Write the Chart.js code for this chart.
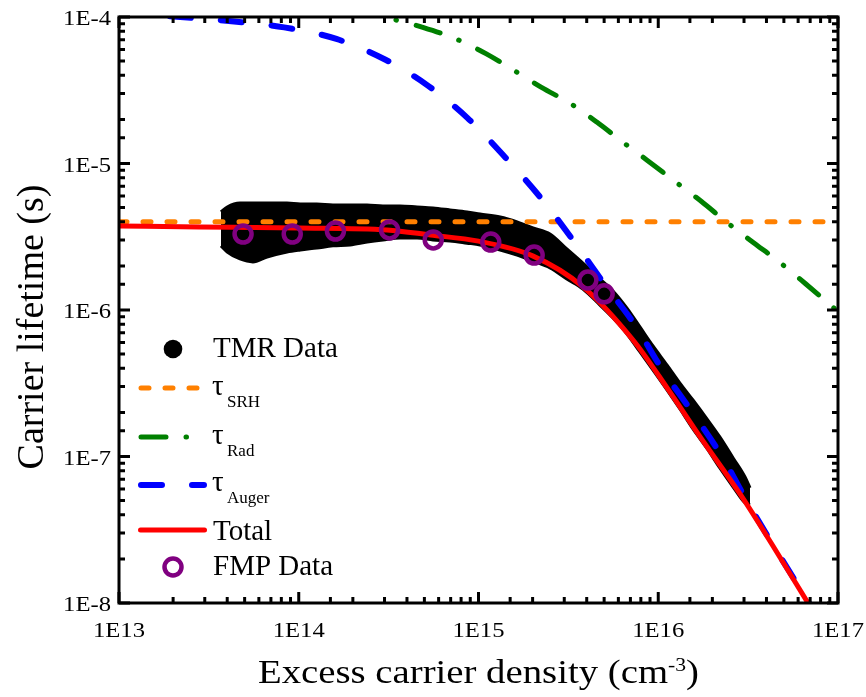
<!DOCTYPE html>
<html>
<head>
<meta charset="utf-8">
<title>Carrier lifetime vs excess carrier density</title>
<script src="https://cdn.jsdelivr.net/npm/chart.js@4.4.1/dist/chart.umd.min.js"></script>
<style>
  html, body { margin: 0; padding: 0; background: #fff; }
  #wrap { width: 866px; height: 697px; }
</style>
</head>
<body>
<div id="wrap"><canvas id="chart" width="866" height="697"></canvas></div>
<script>
// ===== Data =====
// TMR measurement: drawn as the band between its upper and lower edge
const tmrX    = [3.69e13, 4.0e13, 4.71e13, 5.56e13, 6.66e13, 8.6e13, 1.02e14, 1.26e14, 1.55e14, 1.93e14,
                 2.40e14, 2.94e14, 3.66e14, 4.55e14, 5.58e14, 6.94e14, 8.63e14, 1.02e15, 1.32e15, 1.64e15,
                 2.01e15, 2.50e15, 3.10e15, 3.81e15, 4.74e15, 5.60e15, 6.70e15, 7.91e15, 9.35e15, 1.12e16,
                 1.32e16, 1.56e16, 1.87e16, 2.20e16, 2.61e16, 3.04e16, 3.24e16];
const tmrHigh = [4.67e-6, 5.05e-6, 5.37e-6, 5.37e-6, 5.37e-6, 5.37e-6, 5.29e-6, 5.29e-6, 5.21e-6, 5.21e-6,
                 5.21e-6, 5.13e-6, 5.13e-6, 5.05e-6, 4.97e-6, 4.82e-6, 4.67e-6, 4.52e-6, 4.31e-6, 3.99e-6,
                 3.63e-6, 3.30e-6, 2.61e-6, 2.09e-6, 1.63e-6, 1.35e-6, 1.03e-6, 7.66e-7, 5.68e-7, 4.21e-7,
                 3.17e-7, 2.43e-7, 1.80e-7, 1.36e-7, 9.77e-8, 7.25e-8, 6.10e-8];
const tmrLow  = [2.74e-6, 2.49e-6, 2.23e-6, 2.13e-6, 2.30e-6, 2.49e-6, 2.57e-6, 2.65e-6, 2.74e-6, 2.78e-6,
                 2.91e-6, 3.01e-6, 3.10e-6, 3.10e-6, 3.01e-6, 2.96e-6, 2.86e-6, 2.78e-6, 2.57e-6, 2.37e-6,
                 2.16e-6, 1.94e-6, 1.63e-6, 1.39e-6, 1.08e-6, 8.82e-7, 6.86e-7, 5.17e-7, 3.89e-7, 2.84e-7,
                 2.11e-7, 1.54e-7, 1.13e-7, 8.35e-8, 6.19e-8, 4.82e-8, 4.67e-8];

const srhX    = [1e13, 1e17];
const srhY    = [4.0e-6, 4.0e-6];

const radX    = [2.0e14, 3.02e14, 4.9e14, 7.5e14, 1.10e15, 1.55e15, 2.24e15, 3.24e15, 4.57e15, 6.3e15,
                 8.7e15, 1.23e16, 1.74e16, 2.4e16, 3.39e16, 4.68e16, 6.6e16, 1e17];
const radY    = [1.17e-4, 1.0e-4, 8.5e-5, 7.08e-5, 5.62e-5, 4.37e-5, 3.31e-5, 2.57e-5, 1.91e-5, 1.41e-5,
                 1.05e-5, 7.59e-6, 5.5e-6, 3.98e-6, 2.88e-6, 2.14e-6, 1.51e-6, 9.77e-7];

const augerX  = [1e13, 2.19e13, 4.37e13, 8.3e13, 1.62e14, 3.02e14, 5.25e14, 8.7e14, 1.41e15, 2.24e15,
                 3.39e15, 5.0e15, 7.4e15, 1.07e16, 1.55e16, 2.24e16, 3.31e16, 7.08e16, 1e17];
const augerY  = [1.05e-4, 1.0e-4, 9.33e-5, 8.5e-5, 7.08e-5, 5.13e-5, 3.39e-5, 2.04e-5, 1.10e-5, 5.75e-6,
                 2.95e-6, 1.51e-6, 7.94e-7, 3.80e-7, 2.0e-7, 1.02e-7, 4.35e-8, 9.5e-9, 4.8e-9];

const totalX  = [1e13, 2.8e13, 1e14, 3.1e14, 5.4e14, 1.0e15, 2.0e15, 3.81e15, 7.24e15, 1.12e16,
                 1.71e16, 2.85e16, 4.35e16, 6.81e16, 1e17];
const totalY  = [3.74e-6, 3.69e-6, 3.63e-6, 3.52e-6, 3.25e-6, 2.95e-6, 2.34e-6, 1.44e-6, 6.24e-7, 2.94e-7,
                 1.36e-7, 5.55e-8, 2.45e-8, 1.0e-8, 4.7e-9];

const fmpX    = [4.9e13, 9.2e13, 1.6e14, 3.2e14, 5.6e14, 1.17e15, 2.04e15, 4.06e15, 5.0e15];
const fmpY    = [3.30e-6, 3.30e-6, 3.46e-6, 3.52e-6, 3.01e-6, 2.91e-6, 2.37e-6, 1.60e-6, 1.29e-6];

const xRange  = [1e13, 1e17];
const yRange  = [1e-8, 1e-4];

// ===== Styles =====
const SERIF  = "'Liberation Serif', 'Times New Roman', serif";
const ORANGE = '#ff8000';
const GREEN  = '#008000';
const BLUE   = '#0000ff';
const RED    = '#ff0000';
const PURPLE = '#800080';
const DASH_SRH   = [8, 16];
const DASH_RAD   = [25, 20, 0.5, 20.5];
const DASH_AUGER = [21, 30];

const pts = (xs, ys) => xs.map((x, i) => ({ x, y: ys[i] }));
const isDecade = v => Math.abs(Math.log10(v) - Math.round(Math.log10(v))) < 1e-6;
const decadeLabel = v => '1E' + Math.round(Math.log10(v));

// text stretched horizontally (the figure's serif runs a bit wide)
function wideText(ctx, str, x, y, sx, align) {
  const w = ctx.measureText(str).width * sx;
  const x0 = align === 'center' ? x - w / 2 : align === 'right' ? x - w : x;
  ctx.save();
  ctx.translate(x0, y);
  ctx.scale(sx, 1);
  ctx.textAlign = 'left';
  ctx.fillText(str, 0, 0);
  ctx.restore();
  return w;
}

// ===== Plugins =====
// inward ticks on all four sides, frame, decade labels
const framePlugin = {
  id: 'frame',
  afterDatasetsDraw(chart) {
    const { ctx, chartArea: a, scales } = chart;
    ctx.save();
    ctx.strokeStyle = '#000';
    ctx.fillStyle = '#000';
    ctx.lineWidth = 3;
    ctx.font = '22px ' + SERIF;
    ctx.textBaseline = 'alphabetic';
    scales.x.ticks.forEach(t => {
      const px = scales.x.getPixelForValue(t.value);
      const major = isDecade(t.value);
      const len = major ? 11 : 6;
      ctx.beginPath();
      ctx.moveTo(px, a.bottom); ctx.lineTo(px, a.bottom - len);
      ctx.moveTo(px, a.top);    ctx.lineTo(px, a.top + len);
      ctx.stroke();
      if (major) wideText(ctx, decadeLabel(t.value), px, a.bottom + 34, 1.12, 'center');
    });
    scales.y.ticks.forEach(t => {
      const py = scales.y.getPixelForValue(t.value);
      const major = isDecade(t.value);
      const len = major ? 11 : 6;
      ctx.beginPath();
      ctx.moveTo(a.left, py);  ctx.lineTo(a.left + len, py);
      ctx.moveTo(a.right, py); ctx.lineTo(a.right - len, py);
      ctx.stroke();
      if (major) wideText(ctx, decadeLabel(t.value), a.left - 8, py + 8, 1.12, 'right');
    });
    ctx.strokeRect(a.left, a.top, a.right - a.left, a.bottom - a.top);
    ctx.restore();
  }
};

// axis titles and legend (needs sub/superscripts)
const textPlugin = {
  id: 'texts',
  afterDraw(chart) {
    const { ctx, chartArea: a } = chart;
    ctx.save();
    ctx.fillStyle = '#000';
    ctx.textBaseline = 'alphabetic';

    // y title
    ctx.save();
    ctx.translate(43, 327);
    ctx.rotate(-Math.PI / 2);
    ctx.font = '38px ' + SERIF;
    ctx.textAlign = 'center';
    ctx.fillText('Carrier lifetime (s)', 0, 0);
    ctx.restore();

    // x title with superscript
    const sx = 1.14, base = 683;
    const t1 = 'Excess carrier density (cm', t2 = '-3', t3 = ')';
    ctx.font = '34px ' + SERIF;
    const w1 = ctx.measureText(t1).width * sx, w3 = ctx.measureText(t3).width * sx;
    ctx.font = '19px ' + SERIF;
    const w2 = ctx.measureText(t2).width * sx;
    const x0 = (a.left + a.right) / 2 - (w1 + w2 + w3) / 2;
    ctx.font = '34px ' + SERIF;
    wideText(ctx, t1, x0, base, sx, 'left');
    ctx.font = '19px ' + SERIF;
    wideText(ctx, t2, x0 + w1, base - 12, sx, 'left');
    ctx.font = '34px ' + SERIF;
    wideText(ctx, t3, x0 + w1 + w2, base, sx, 'left');

    // legend
    const line = (x1, x2, y, color, width, dash) => {
      ctx.save();
      ctx.strokeStyle = color;
      ctx.lineWidth = width;
      ctx.lineCap = 'round';
      ctx.setLineDash(dash);
      ctx.beginPath(); ctx.moveTo(x1, y); ctx.lineTo(x2, y); ctx.stroke();
      ctx.restore();
    };
    const tau = (y, sub) => {
      ctx.font = '29px ' + SERIF;
      ctx.fillText('\u03c4', 212, y);
      ctx.font = '17px ' + SERIF;
      ctx.fillText(sub, 227, y + 12);
    };

    ctx.beginPath(); ctx.arc(173, 349, 9.3, 0, Math.PI * 2); ctx.fill();
    ctx.font = '29px ' + SERIF;
    ctx.fillText('TMR Data', 213, 357);

    line(141, 197, 388, ORANGE, 5, DASH_SRH);
    tau(395, 'SRH');
    line(141, 189, 437, GREEN, 5, DASH_RAD);
    tau(444, 'Rad');
    line(141, 204, 485, BLUE, 6, DASH_AUGER);
    tau(491, 'Auger');
    line(140.5, 204.5, 530, RED, 5, []);
    ctx.font = '29px ' + SERIF;
    ctx.fillText('Total', 213, 540);

    ctx.save();
    ctx.strokeStyle = PURPLE; ctx.lineWidth = 4.5;
    ctx.beginPath(); ctx.arc(173, 567, 8.5, 0, Math.PI * 2); ctx.stroke();
    ctx.restore();
    ctx.fillText('FMP Data', 213, 575);
    ctx.restore();
  }
};

// ===== Chart =====
const lineBase = { pointRadius: 0, fill: false, cubicInterpolationMode: 'monotone', clip: 0 };

new Chart(document.getElementById('chart'), {
  type: 'line',
  data: {
    datasets: [
      { ...lineBase, label: 'TMR Data', data: pts(tmrX, tmrHigh), borderColor: '#000', backgroundColor: '#000',
        borderWidth: 3, fill: '+1', order: 6 },
      { ...lineBase, label: 'TMR Data lower', data: pts(tmrX, tmrLow), borderColor: '#000', borderWidth: 3, order: 5 },
      { ...lineBase, label: 'tau SRH', data: pts(srhX, srhY), borderColor: ORANGE, borderWidth: 5,
        borderDash: DASH_SRH, borderCapStyle: 'round', order: 4 },
      { ...lineBase, label: 'tau Rad', data: pts(radX, radY), borderColor: GREEN, borderWidth: 5,
        borderDash: DASH_RAD, borderCapStyle: 'round', order: 3 },
      { ...lineBase, label: 'tau Auger', data: pts(augerX, augerY), borderColor: BLUE, borderWidth: 6,
        borderDash: DASH_AUGER, borderCapStyle: 'round', order: 2 },
      { ...lineBase, label: 'Total', data: pts(totalX, totalY), borderColor: RED, borderWidth: 5, order: 1 },
      { label: 'FMP Data', data: pts(fmpX, fmpY), showLine: false, pointRadius: 8.5, pointBorderWidth: 4.5,
        pointBorderColor: PURPLE, pointBackgroundColor: 'rgba(0,0,0,0)', clip: 0, order: 0 }
    ]
  },
  options: {
    responsive: false,
    animation: false,
    events: [],
    devicePixelRatio: 1,
    layout: { padding: { top: 17, right: 28, left: 0, bottom: 0 } },
    plugins: { legend: { display: false }, tooltip: { enabled: false } },
    scales: {
      x: {
        type: 'logarithmic', position: 'bottom', min: xRange[0], max: xRange[1],
        grid: { display: false, drawTicks: false },
        border: { display: false },
        ticks: { display: false, autoSkip: false },
        afterFit: s => { s.height = 94; }
      },
      y: {
        type: 'logarithmic', position: 'left', min: yRange[0], max: yRange[1],
        grid: { display: false, drawTicks: false },
        border: { display: false },
        ticks: { display: false, autoSkip: false },
        afterFit: s => { s.width = 119; }
      }
    }
  },
  plugins: [framePlugin, textPlugin]
});
</script>
</body>
</html>
